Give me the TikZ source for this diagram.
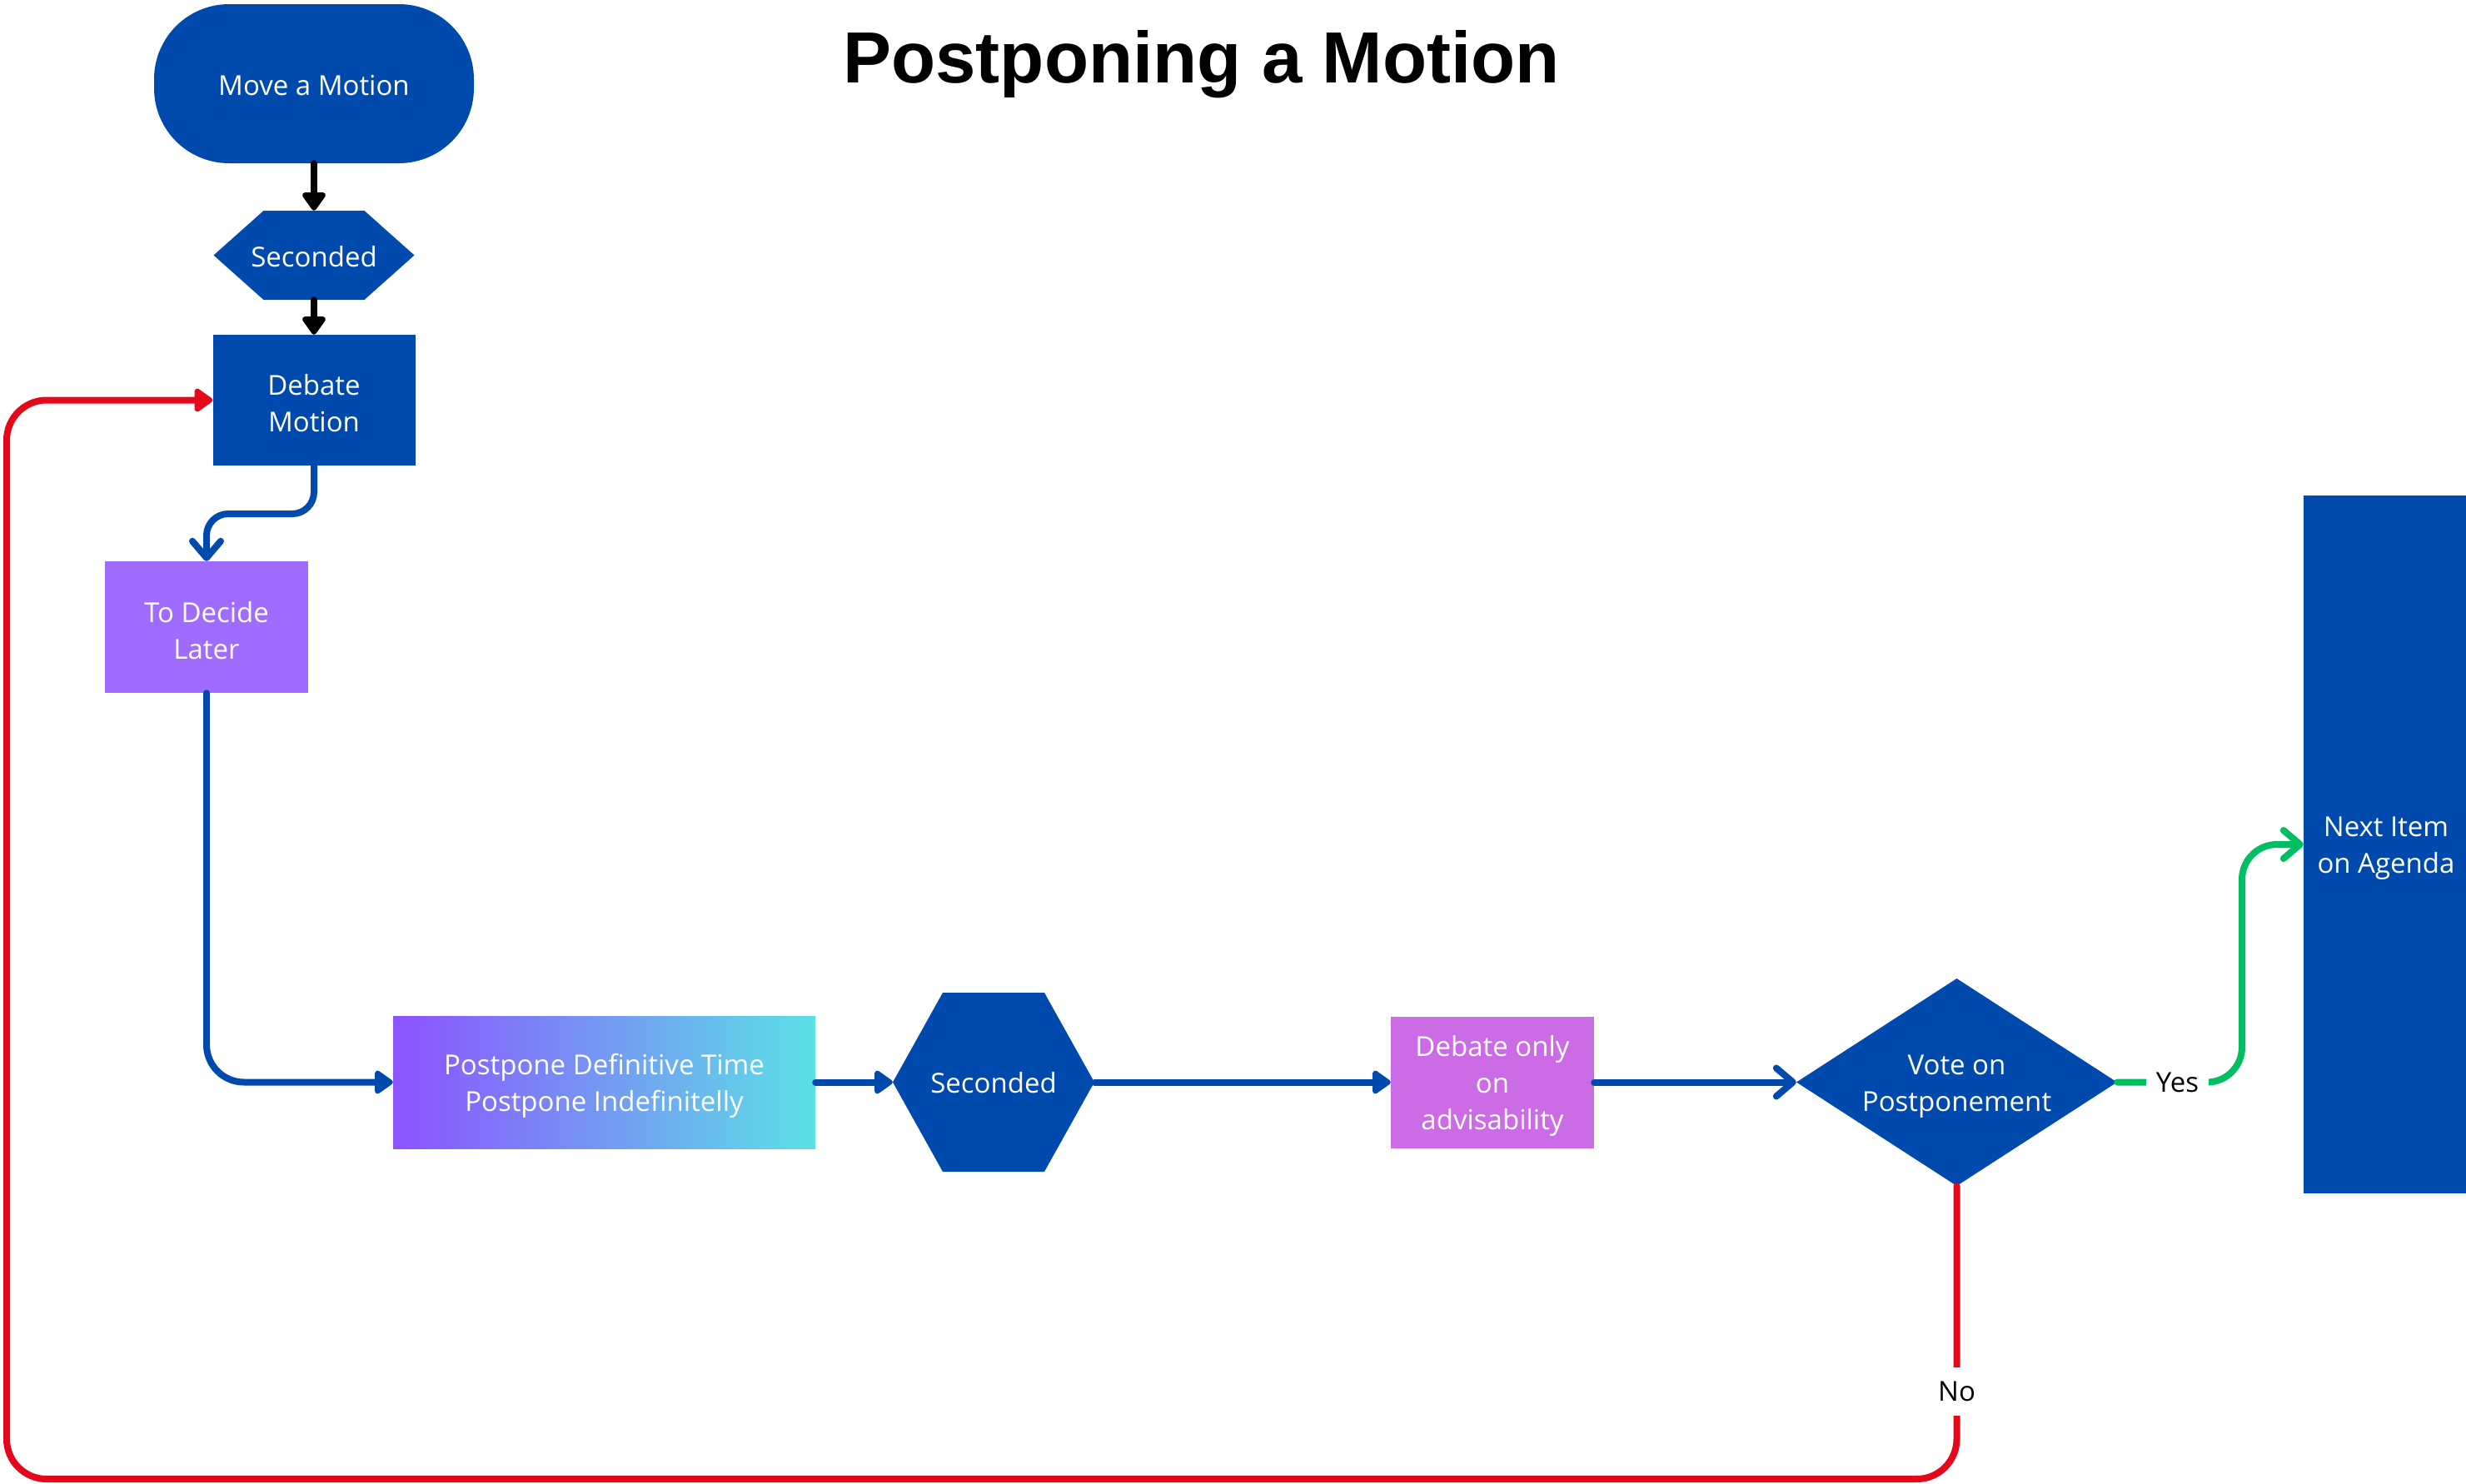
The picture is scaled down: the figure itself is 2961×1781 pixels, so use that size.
\documentclass[tikz,border=0pt]{standalone}
\usepackage{fontspec}
\setmainfont{Open Sans}
\newfontfamily\titlefont{Liberation Sans}
\usetikzlibrary{arrows.meta}
\definecolor{cblue}{HTML}{004AAD}
\definecolor{cpurple}{HTML}{A06CFF}
\definecolor{cviolet}{HTML}{CB6CE6}
\definecolor{cgradL}{HTML}{8C52FF}
\definecolor{cgradR}{HTML}{5CE1E6}
\definecolor{cred}{HTML}{E3091A}
\definecolor{cgreen}{HTML}{00BF63}
\begin{document}
\begin{tikzpicture}[x=1pt,y=-1pt,
  box/.style={rectangle, inner sep=0pt},
  txt/.style={inner sep=0pt, text=white, align=center,
    font=\fontsize{33}{44}\selectfont},
  term/.style={box, fill=cblue, rounded corners=90pt},
  hexa/.style={box, path picture={\fill[cblue]
      (path picture bounding box.west)
      -- ([xshift=60pt]path picture bounding box.north west)
      -- ([xshift=-60pt]path picture bounding box.north east)
      -- (path picture bounding box.east)
      -- ([xshift=-60pt]path picture bounding box.south east)
      -- ([xshift=60pt]path picture bounding box.south west) -- cycle;}},
  diam/.style={box, path picture={\fill[cblue]
      (path picture bounding box.west) -- (path picture bounding box.north)
      -- (path picture bounding box.east) -- (path picture bounding box.south) -- cycle;}},
  lbl/.style={fill=white, inner sep=0pt, text=black, font=\fontsize{33}{44}\selectfont},
  flow/.style={line width=8pt, line cap=round, line join=round},
  fillhead/.style={-{Triangle[length=24pt,width=32pt,round]}},
  openhead/.style={-{Straight Barb[length=20pt,width=34pt,round]}}
]
\useasboundingbox (0,0) rectangle (2961,1781);

\node[font=\titlefont\bfseries\fontsize{87}{100}\selectfont, anchor=base, inner sep=0pt]
  (title) at (1442.5,99) {Postponing a Motion};

% shapes
\node[term, minimum width=384pt, minimum height=191pt] (move) at (377,100.5) {};
\node[hexa, minimum width=241pt, minimum height=107pt] (sec1) at (377,306.5) {};
\node[box, fill=cblue, minimum width=243pt, minimum height=157pt] (debate) at (377,480.5) {};
\node[box, fill=cpurple, minimum width=244pt, minimum height=158pt] (decide) at (248,753) {};
\node[box, left color=cgradL, right color=cgradR, minimum width=507pt, minimum height=159pt]
  (postpone) at (725.5,1299.5) {};
\node[hexa, minimum width=242pt, minimum height=215pt] (sec2) at (1193,1299.5) {};
\node[box, fill=cviolet, minimum width=244pt, minimum height=158pt] (advis) at (1792,1299.5) {};
\node[diam, minimum width=385pt, minimum height=249pt] (vote) at (2349.5,1299.5) {};
\node[box, fill=cblue, minimum width=198pt, minimum height=838pt] (next) at (2865,1014) {};

% texts
\node[txt] (move-t) at ([yshift=-2pt]move.center) {Move a Motion};
\node[txt] (sec1-t) at ([yshift=-2pt]sec1.center) {Seconded};
\node[txt] (debate-t) at ([yshift=-4pt]debate.center) {Debate\\Motion};
\node[txt] (decide-t) at ([yshift=-4pt]decide.center) {To Decide\\Later};
\node[txt] (postpone-t) at ([yshift=-4pt]postpone.center) {Postpone Definitive Time\\Postpone Indefinitelly};
\node[txt] (sec2-t) at ([yshift=-1pt]sec2.center) {Seconded};
\node[txt] (advis-t) at ([yshift=-4pt]advis.center) {Debate only\\on\\advisability};
\node[txt] (vote-t) at ([yshift=-5pt]vote.center) {Vote on\\Postponement};
\node[txt] (next-t) at ([yshift=-5pt]next.center) {Next Item\\on Agenda};

\coordinate (j1) at (0,617);
\coordinate (gx) at (2692,0);
\coordinate (rb) at (0,1776);
\coordinate (rl) at (8,0);

\draw[flow, black, fillhead] (move.south) -- (sec1.north);
\draw[flow, black, fillhead] (sec1.south) -- (debate.north);
\draw[flow, cblue, openhead, rounded corners=26pt]
  (debate.south) -- (debate.south |- j1) -- (decide.north |- j1) -- (decide.north);
\draw[flow, cblue, fillhead, rounded corners=45pt] (decide.south) |- (postpone.west);
\draw[flow, cblue, fillhead] (postpone.east) -- (sec2.west);
\draw[flow, cblue, fillhead] (sec2.east) -- (advis.west);
\draw[flow, cblue, openhead] (advis.east) -- (vote.west);
\draw[flow, cgreen, openhead, rounded corners=42pt]
  (vote.east) -- (gx |- vote.east) -- (gx |- next.west) -- (next.west);
\draw[flow, cred, fillhead, rounded corners=48pt]
  (vote.south) -- (vote.south |- rb) -- (rl |- rb) -- (rl |- debate.west) -- (debate.west);

\node[lbl, minimum width=75pt, minimum height=40pt] (yes) at (2614.5,1299.5) {Yes};
\node[lbl, minimum width=40pt, minimum height=58pt] (no) at (2349.5,1671) {No};
\end{tikzpicture}
\end{document}
